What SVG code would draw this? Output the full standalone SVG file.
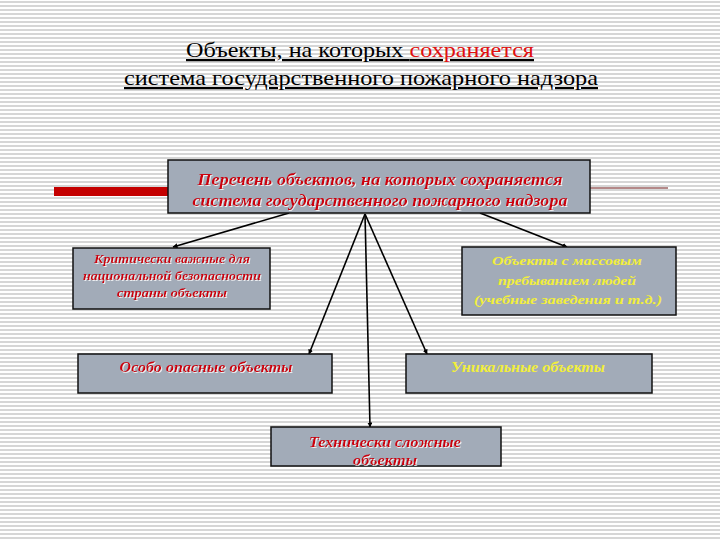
<svg xmlns="http://www.w3.org/2000/svg" width="720" height="540" viewBox="0 0 720 540">
<defs>
<pattern id="stripes" x="0" y="0" width="8" height="4" patternUnits="userSpaceOnUse">
<rect x="0" y="0" width="8" height="4" fill="#ffffff"/>
<rect x="0" y="1" width="8" height="2" fill="#d6d6d6"/>
</pattern>
<marker id="arr" viewBox="0 0 10 10" refX="9" refY="5" markerWidth="5" markerHeight="5" orient="auto" markerUnits="userSpaceOnUse">
<path d="M0,0 L10,5 L0,10 z" fill="#000"/>
</marker>
<filter id="sh" x="-5%" y="-20%" width="110%" height="140%">
<feGaussianBlur in="SourceAlpha" stdDeviation="0.6" result="b"/>
<feOffset dx="1" dy="1" result="o"/>
<feFlood flood-color="#ffffff" flood-opacity="0.8"/>
<feComposite in2="o" operator="in" result="s"/>
<feMerge><feMergeNode in="s"/><feMergeNode in="SourceGraphic"/></feMerge>
</filter>
</defs>
<style>
.box{fill:#a2abb8;stroke:#111;stroke-width:1.5}
.t{font-family:"Liberation Serif","DejaVu Serif",serif;font-style:italic;font-weight:bold;text-anchor:middle}
.red{fill:#cc0010}
.yel{fill:#f2ef3a}
.title{font-family:"Liberation Serif","DejaVu Serif",serif;font-size:22px;text-anchor:middle;text-decoration:underline;fill:#000}
.conn{stroke:#000;stroke-width:1.6;fill:none}
</style>
<rect x="0" y="0" width="720" height="540" fill="url(#stripes)"/>

<g id="title">
<text class="title" x="360" y="57" textLength="348" lengthAdjust="spacingAndGlyphs">Объекты, на которых <tspan fill="#e01010">сохраняется</tspan></text>
<text class="title" x="361" y="85" textLength="474" lengthAdjust="spacingAndGlyphs">система государственного пожарного надзора</text>
</g>

<g id="decor">
<rect x="54" y="187" width="116" height="9" fill="#c40000"/>
<line x1="590" y1="188" x2="668" y2="188" stroke="#6a1414" stroke-width="1"/>
</g>

<g id="connectors">
<line class="conn" x1="289" y1="213" x2="173" y2="247" marker-end="url(#arr)"/>
<line class="conn" x1="480" y1="213" x2="567" y2="247" marker-end="url(#arr)"/>
<line class="conn" x1="365" y1="214" x2="309" y2="354" marker-end="url(#arr)"/>
<line class="conn" x1="365" y1="214" x2="427" y2="354" marker-end="url(#arr)"/>
<line class="conn" x1="365" y1="214" x2="370" y2="427" marker-end="url(#arr)"/>
</g>

<g id="main">
<rect class="box" x="168" y="160" width="422" height="53"/>
<text class="t red" font-size="16" x="380" y="185" textLength="365" lengthAdjust="spacingAndGlyphs" filter="url(#sh)">Перечень объектов, на которых сохраняется</text>
<text class="t red" font-size="16" x="380" y="206" textLength="375" lengthAdjust="spacingAndGlyphs" filter="url(#sh)">система государственного пожарного надзора</text>
</g>

<g id="critical">
<rect class="box" x="73" y="248" width="197" height="61"/>
<text class="t red" font-size="12" x="172" y="263" textLength="156" lengthAdjust="spacingAndGlyphs" filter="url(#sh)">Критически важные  для</text>
<text class="t red" font-size="12" x="172" y="280" textLength="178" lengthAdjust="spacingAndGlyphs" filter="url(#sh)">национальной безопасности</text>
<text class="t red" font-size="12" x="172" y="297" textLength="110" lengthAdjust="spacingAndGlyphs" filter="url(#sh)">страны объекты</text>
</g>

<g id="mass">
<rect class="box" x="462" y="247" width="214" height="68"/>
<text class="t yel" font-size="13" x="567" y="265" textLength="150" lengthAdjust="spacingAndGlyphs">Объекты с массовым</text>
<text class="t yel" font-size="13" x="567" y="285" textLength="138" lengthAdjust="spacingAndGlyphs">пребыванием людей</text>
<text class="t yel" font-size="13" x="568" y="304" textLength="188" lengthAdjust="spacingAndGlyphs">(учебные заведения и т.д.)</text>
</g>

<g id="dangerous">
<rect class="box" x="78" y="354" width="254" height="39"/>
<text class="t red" font-size="14" x="206" y="372" textLength="173" lengthAdjust="spacingAndGlyphs" filter="url(#sh)">Особо опасные объекты</text>
</g>

<g id="unique">
<rect class="box" x="406" y="354" width="246" height="39"/>
<text class="t yel" font-size="14" x="528" y="372" textLength="154" lengthAdjust="spacingAndGlyphs">Уникальные объекты</text>
</g>

<g id="technical">
<rect class="box" x="271" y="427" width="230" height="39"/>
<text class="t red" font-size="14" x="385" y="447" textLength="152" lengthAdjust="spacingAndGlyphs" filter="url(#sh)">Технически сложные</text>
<text class="t red" font-size="14" x="385" y="465" textLength="64" lengthAdjust="spacingAndGlyphs" filter="url(#sh)">объекты</text>
</g>
</svg>
